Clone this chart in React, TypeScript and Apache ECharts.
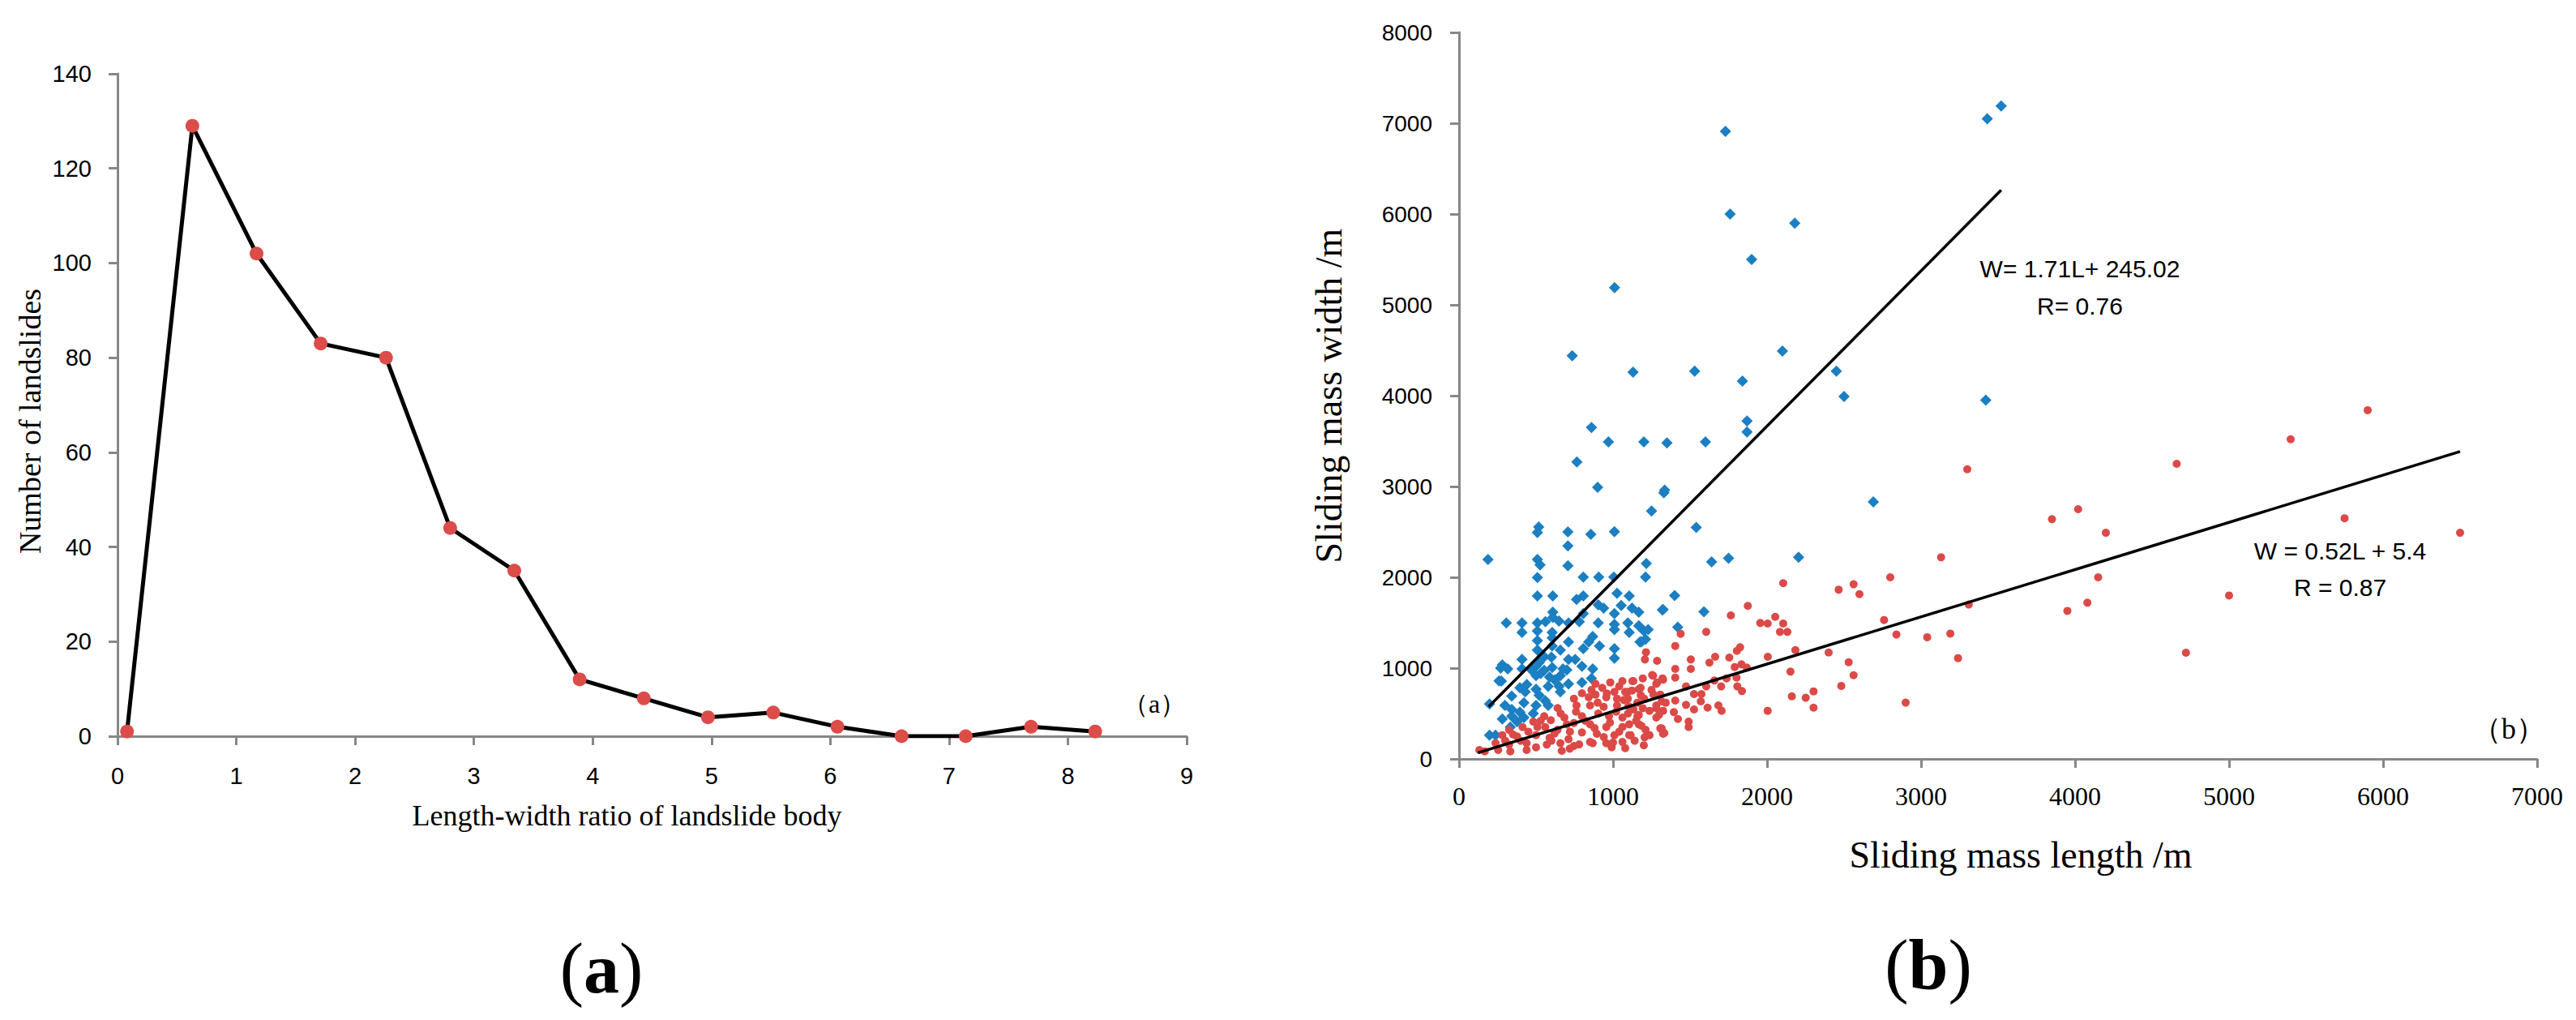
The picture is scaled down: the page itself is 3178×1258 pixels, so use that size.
import React, { useEffect, useRef } from 'react';
import * as echarts from 'echarts';

// (a) length-width ratio vs number of landslides
const ratioX = [0.08, 0.63, 1.17, 1.71, 2.26, 2.8, 3.34, 3.89, 4.43, 4.97, 5.52, 6.06, 6.6, 7.14, 7.69, 8.23];
const landslideCount = [1, 129, 102, 83, 80, 44, 35, 12, 8, 4, 5, 2, 0, 0, 2, 1];

// (b) sliding mass length (L) vs width (W)
const bluePoints: [number, number][] = [
  [3520, 7190], [3430, 7050], [1730, 6910], [1760, 6000], [2180, 5900], [1900, 5500], [1010, 5190],
  [735, 4440], [1130, 4260], [1530, 4270], [2100, 4490], [1840, 4160], [2450, 4270], [2500, 3990],
  [3420, 3950], [860, 3650], [1870, 3720], [1870, 3600], [970, 3490], [1200, 3490], [1350, 3480],
  [1600, 3490], [765, 3270], [900, 2990], [1330, 2930], [1335, 2960], [1250, 2730], [1540, 2550],
  [2690, 2830], [1640, 2170], [1750, 2210], [2205, 2220], [1400, 1800], [1320, 1640], [1590, 1620],
  [1420, 1450], [1200, 1410], [1185, 1290],
  [517, 2553], [509, 2494], [707, 2500], [856, 2473], [1009, 2503], [707, 2345], [188, 2196],
  [509, 2196], [526, 2137], [707, 2128], [1216, 2152], [509, 1997], [807, 2003], [907, 2003],
  [1005, 2003], [1211, 2003], [509, 1795], [609, 1795], [807, 1795], [763, 1756], [1026, 1824],
  [1105, 1795], [1325, 1646], [904, 1696], [939, 1661], [1053, 1690], [1123, 1661], [1167, 1616],
  [1009, 1601], [609, 1616], [609, 1557], [807, 1601], [307, 1497], [409, 1497], [509, 1497],
  [561, 1512], [649, 1518], [711, 1497], [781, 1512], [904, 1497], [1009, 1482], [1096, 1497],
  [1167, 1467], [409, 1393], [509, 1408], [605, 1393], [1009, 1423], [1105, 1393], [1228, 1423],
  [509, 1304], [605, 1333], [711, 1289], [842, 1289], [868, 1348], [1175, 1289], [1211, 1318],
  [509, 1199], [605, 1244], [658, 1199], [807, 1214], [912, 1244], [1009, 1214], [1009, 1110],
  [409, 1095], [553, 1125], [711, 1095], [754, 1095], [281, 1036], [316, 991], [409, 991],
  [500, 1021], [553, 976], [605, 1006], [675, 991], [798, 1021], [868, 991], [275, 857],
  [500, 917], [588, 902], [658, 917], [711, 827], [798, 842], [860, 887], [395, 783], [430, 738],
  [500, 768], [579, 798], [658, 738], [342, 693], [298, 589], [198, 604], [421, 619], [500, 589],
  [579, 589], [342, 545], [395, 515], [281, 440], [342, 470], [421, 455], [482, 500], [377, 411],
  [198, 262], [237, 262], [333, 351],
  [520, 700], [560, 640], [620, 870], [650, 800], [700, 980], [470, 980], [440, 820], [530, 940],
  [600, 1120], [520, 1060], [270, 1000], [260, 860],
];

const redPoints: [number, number][] = [
  [5900, 3840], [5400, 3520], [4660, 3250], [5750, 2650], [6500, 2490], [4020, 2750], [3850, 2640],
  [4200, 2490], [3300, 3190], [4150, 2000], [5000, 1800], [4080, 1720], [3950, 1630], [4720, 1170],
  [3130, 2220], [3310, 1700], [2800, 2000], [2760, 1530], [2840, 1370], [3040, 1340], [3190, 1380],
  [3240, 1110], [2900, 620],
  [2105, 1935], [2465, 1863], [2562, 1923], [2600, 1815], [1875, 1685], [1765, 1580], [2053, 1565],
  [1956, 1497], [2004, 1491], [2105, 1491], [2084, 1399], [2132, 1399], [1439, 1378], [1605, 1399],
  [1404, 1244], [1214, 1175], [1207, 1095], [1286, 1080], [1505, 1095], [1505, 991], [1404, 991],
  [1404, 896], [1663, 1125], [1626, 1060], [1755, 1116], [1804, 1190], [1825, 1229], [1790, 1012],
  [1834, 1042], [1868, 1006], [1802, 896], [1807, 798], [1837, 747], [1702, 798], [1737, 887],
  [1658, 863], [1605, 798], [1574, 714], [1526, 714], [1474, 798], [1570, 634], [1614, 565],
  [1526, 545], [1474, 595], [1404, 643], [1395, 515], [1421, 440], [1491, 411], [1491, 351],
  [1684, 589], [1705, 530], [2005, 1125], [2184, 1199], [2400, 1172], [2530, 1065], [2562, 922],
  [2482, 804], [2152, 961], [2161, 690], [2251, 673], [2302, 744], [2302, 565], [2004, 530],
  [1286, 842], [1321, 887], [1260, 917], [1193, 887], [1126, 857], [1179, 783], [1123, 753],
  [1079, 738], [1070, 649], [1158, 619], [1263, 708], [1316, 634], [1342, 619], [1281, 559],
  [1298, 485], [1237, 530], [1193, 559], [1158, 470], [1097, 500], [1105, 381], [1167, 381],
  [1211, 321], [1205, 238], [1307, 336], [1333, 286], [1105, 262], [1079, 119],
  [1254, 923], [1325, 872], [1281, 827], [1132, 857], [1061, 857], [982, 842], [886, 827],
  [930, 783], [1009, 738], [1096, 738], [1167, 768], [1307, 708], [798, 723], [746, 664],
  [842, 679], [886, 708], [956, 679], [1026, 664], [1096, 664], [1202, 664], [1281, 589],
  [640, 560], [763, 589], [851, 589], [939, 574], [1026, 589], [1132, 545], [1325, 530],
  [553, 470], [684, 455], [798, 470], [904, 500], [974, 470], [1061, 455], [1167, 485],
  [1281, 455], [482, 411], [596, 426], [746, 396], [851, 381], [956, 351], [1061, 351],
  [1184, 366], [1316, 336], [1325, 277], [412, 351], [325, 321], [509, 351], [640, 321],
  [798, 292], [895, 277], [1009, 262], [1114, 262], [1237, 262], [281, 262], [377, 247],
  [500, 262], [588, 232], [711, 217], [851, 187], [956, 173], [1061, 187], [237, 173],
  [325, 158], [439, 173], [500, 128], [570, 158], [658, 173], [746, 143], [868, 173],
  [132, 98], [167, 83], [254, 98], [333, 83], [439, 98], [667, 89], [719, 113], [991, 128],
  [700, 380], [760, 520], [900, 620], [980, 400], [1040, 300], [1150, 420], [620, 280],
  [560, 350], [450, 300], [400, 200], [820, 420], [880, 340], [940, 240], [1020, 520],
  [1100, 580], [1180, 700], [1250, 760], [860, 760], [960, 720], [1040, 800], [720, 300],
  [600, 200], [530, 420], [660, 500], [1140, 200], [1200, 150], [300, 200], [350, 270],
  [780, 160], [1000, 180],
];

// fitted lines, end points
const blueFit: [number, number][] = [[193, 575], [3520, 6264]];
const redFit: [number, number][] = [[123, 68], [6500, 3385]];

const SERIF = '"Liberation Serif", "Times New Roman", serif';
const SANS = '"Liberation Sans", Arial, sans-serif';
const AXIS_GREY = '#878787';

const axisLine = { show: true, onZero: false, lineStyle: { color: AXIS_GREY, width: 3 } };
const axisTick = { show: true, inside: false, length: 11, lineStyle: { color: AXIS_GREY, width: 3 } };
const plain = (v: number) => String(v);

const txt = (text: string, x: number, y: number, fontSize: number, family: string) => ({
  type: 'text',
  x,
  y,
  silent: true,
  style: {
    text,
    fill: '#000',
    fontSize,
    fontFamily: family,
    align: 'center',
    verticalAlign: 'middle',
    textAlign: 'center',
    textVerticalAlign: 'middle',
  },
});

const panelLabel = (letter: string, x: number, y: number) => ({
  type: 'text',
  x,
  y,
  silent: true,
  style: {
    text: `{p|(}{b|${letter}}{p|)}`,
    align: 'center',
    verticalAlign: 'middle',
    textAlign: 'center',
    textVerticalAlign: 'middle',
    rich: {
      p: { fontFamily: SERIF, fontSize: 88, fill: '#000', color: '#000' },
      b: { fontFamily: SERIF, fontSize: 88, fontWeight: 'bold', fill: '#000', color: '#000' },
    },
  },
});

export default function App() {
  const chartRef = useRef<HTMLDivElement>(null);

  useEffect(() => {
    document.body.style.margin = '0';
    if (!chartRef.current) return;
    const chart = echarts.init(chartRef.current, null, { renderer: 'svg' });

    const option: any = {
      animation: false,
      backgroundColor: '#fff',
      grid: [
        { left: 145, top: 91, width: 1319, height: 817 },
        { left: 1800, top: 40, width: 1330, height: 896 },
      ],
      xAxis: [
        {
          type: 'value',
          gridIndex: 0,
          min: 0,
          max: 9,
          interval: 1,
          axisLine,
          axisTick,
          splitLine: { show: false },
          axisLabel: { color: '#000', fontFamily: SANS, fontSize: 29, margin: 34, formatter: plain },
          name: 'Length-width ratio of landslide body',
          nameLocation: 'middle',
          nameGap: 80,
          nameTextStyle: { color: '#000', fontFamily: SERIF, fontSize: 36, padding: [0, 62, 0, 0] },
        },
        {
          type: 'value',
          gridIndex: 1,
          min: 0,
          max: 7000,
          interval: 1000,
          axisLine,
          axisTick,
          splitLine: { show: false },
          axisLabel: { color: '#000', fontFamily: SERIF, fontSize: 32, margin: 30, formatter: plain },
          name: 'Sliding mass length /m',
          nameLocation: 'middle',
          nameGap: 95,
          nameTextStyle: { color: '#000', fontFamily: SERIF, fontSize: 46, padding: [0, 0, 0, 56] },
        },
      ],
      yAxis: [
        {
          type: 'value',
          gridIndex: 0,
          min: 0,
          max: 140,
          interval: 20,
          axisLine,
          axisTick,
          splitLine: { show: false },
          axisLabel: { color: '#000', fontFamily: SANS, fontSize: 29, margin: 32, formatter: plain },
          name: 'Number of landslides',
          nameLocation: 'middle',
          nameGap: 89,
          nameTextStyle: { color: '#000', fontFamily: SERIF, fontSize: 38, padding: [0, 40, 0, 0] },
        },
        {
          type: 'value',
          gridIndex: 1,
          min: 0,
          max: 8000,
          interval: 1000,
          axisLine,
          axisTick,
          splitLine: { show: false },
          axisLabel: { color: '#000', fontFamily: SANS, fontSize: 28, margin: 33, formatter: plain },
          name: 'Sliding mass width /m',
          nameLocation: 'middle',
          nameGap: 138,
          nameTextStyle: { color: '#000', fontFamily: SERIF, fontSize: 46 },
        },
      ],
      series: [
        {
          type: 'line',
          xAxisIndex: 0,
          yAxisIndex: 0,
          data: ratioX.map((x, i) => [x, landslideCount[i]]),
          symbol: 'circle',
          symbolSize: 17,
          lineStyle: { color: '#000', width: 5 },
          itemStyle: { color: '#DC4C49', borderWidth: 0 },
        },
        {
          type: 'scatter',
          xAxisIndex: 1,
          yAxisIndex: 1,
          data: bluePoints,
          symbol: 'diamond',
          symbolSize: 14,
          itemStyle: { color: '#1B7FC2', opacity: 1 },
        },
        {
          type: 'scatter',
          xAxisIndex: 1,
          yAxisIndex: 1,
          data: redPoints,
          symbol: 'circle',
          symbolSize: 10,
          itemStyle: { color: '#DB4A47', opacity: 1 },
        },
        {
          type: 'line',
          xAxisIndex: 1,
          yAxisIndex: 1,
          data: blueFit,
          symbol: 'none',
          z: 5,
          lineStyle: { color: '#000', width: 3.5 },
        },
        {
          type: 'line',
          xAxisIndex: 1,
          yAxisIndex: 1,
          data: redFit,
          symbol: 'none',
          z: 5,
          lineStyle: { color: '#000', width: 3.5 },
        },
      ],
      graphic: [
        txt('（a）', 1424, 868, 32, SERIF),
        txt('（b）', 3095, 899, 36, SERIF),
        txt('W= 1.71L+ 245.02', 2566, 331, 30, SANS),
        txt('R= 0.76', 2566, 377, 30, SANS),
        txt('W = 0.52L + 5.4', 2887, 679, 30, SANS),
        txt('R = 0.87', 2887, 724, 30, SANS),
        panelLabel('a', 742, 1194),
        panelLabel('b', 2379, 1190),
      ],
    };

    chart.setOption(option);
    return () => {
      chart.dispose();
    };
  }, []);

  return <div ref={chartRef} style={{ width: 3178, height: 1258 }} />;
}
